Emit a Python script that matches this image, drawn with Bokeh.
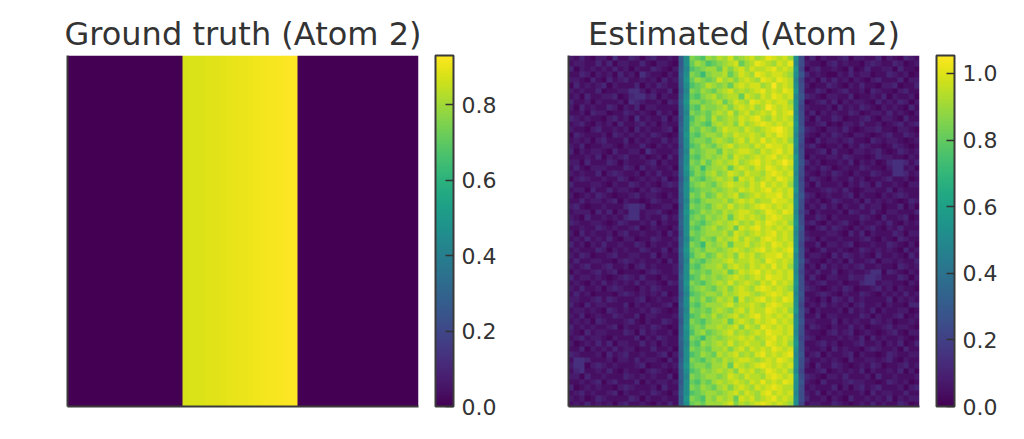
import numpy as np
from bokeh.plotting import figure
from bokeh.layouts import row
from bokeh.models import (LinearColorMapper, ColorBar, FixedTicker, Range1d,
                          PrintfTickFormatter)
from bokeh.palettes import Viridis256
from bokeh.embed import file_html
from bokeh.resources import INLINE

# grid size of both images
n = 64

# ground truth: one band of columns, values rise slowly left -> right
truth_band_start = 21
truth_band = [0.873, 0.876, 0.879, 0.882, 0.884, 0.887, 0.890, 0.893, 0.896, 0.899,
              0.902, 0.904, 0.907, 0.910, 0.913, 0.916, 0.919, 0.922, 0.924, 0.927, 0.930]

# estimate: one char per cell (top row first), looked up in levels / level_values
levels = "0123456789abcdefghijklmnopqrstuvwxyz"
level_values = [0.00, 0.02, 0.045, 0.075, 0.11, 0.14, 0.18, 0.22, 0.25, 0.28,
                0.31, 0.33, 0.36, 0.39, 0.42, 0.46, 0.48, 0.52, 0.55, 0.58,
                0.60, 0.62, 0.64, 0.66, 0.68, 0.70, 0.72, 0.76, 0.81, 0.86,
                0.90, 0.94, 0.98, 1.02, 1.04, 1.05]
estimate_rows = [
    "32421 33152 24313 42232 ah tsrut vuwtu vwuvx wvwu h8 24132 23413 32241 32143 2",
    "23322 42413 32242 13321 9h sutrs tuvws uvxwv uwvx g8 32213 42322 13432 24312 3",
    "41323 23242 31322 43213 ag rstuu svtvw uwvvw xvwv i7 13422 32141 24223 31422 1",
    "22431 32314 23153 22132 bh tsqtu uvsuw vuxwv wwvu h9 42321 13242 33122 43231 2",
    "33214 21423 42232 31423 ai sutst wuvtv wvuxw vxwv g7 23142 42313 21342 22413 3",
    "14232 34132 22413 24322 ah rstvu tusvw vwwuv yvwv h8 31224 32132 42213 34122 4",
    "32322 41223 35531 32241 9g tsuts uvwuv uvwxv wvxw i8 22431 23422 31432 21342 2",
    "23142 23341 24553 41322 ah srtuv tuvvs wvuwv xwvw g9 43213 32241 22324 13223 1",
    "42231 32223 15432 23143 bi ttstu vsuwv uxwvw vwwu h8 12342 41323 32142 32431 3",
    "31423 22431 32413 32222 ah srutt uvtvw vwuvy wvwv h7 32223 14232 43213 23214 2",
    "22314 33122 43232 14231 ag tstsu vuwtv wuvwv xvwx g8 24132 32243 12332 42321 3",
    "43232 21342 31523 22413 9h rtusv tuvuw vwxvu wvwv h8 31422 43122 34213 32142 2",
    "23421 32314 22342 31322 ah stsru vuvtw uvwxw vwvw i8 22341 21332 42231 23423 4",
    "32213 42232 31423 22341 bh tsuts uwvvu wvuvw xywv h9 43213 32421 23342 21332 1",
    "14322 23143 23232 43212 ai srtuu tvuwv vwvuw vxwv g8 32132 43213 32123 42243 2",
    "23231 34222 41323 22423 ah sttsu vutvw uwvxv wvwu h8 21423 32342 21432 33212 3",
    "32412 23321 32242 13232 9h rsuts uvwuv vuwvx wwvw h7 34212 23132 43221 24321 2",
    "41323 32142 23315 32223 ag tstuu svuvw wvuwv wxvw g8 22341 42213 32342 12432 3",
    "22232 41323 42231 23142 ah srtut uvtwv uvwvw xvwv i8 13223 32432 21243 32213 2",
    "33142 22431 32223 41322 bh tsusu vuvwu vwxvw vwyw h9 42312 23241 32312 45542 4",
    "24213 33222 43142 32231 ai stqtu uvsvw vuwvx wvwv h8 23243 12322 43221 35523 1",
    "32322 41343 22313 24223 ah rtsuv tuwvu wvvuw xwvw g8 32132 43213 22432 25542 3",
    "13432 23224 31232 32412 9g tsrtu vuvsw vwuvw vxwv h7 24321 32242 31223 42231 2",
    "42223 32132 24323 21343 ah stuts uvwvv uwvxv wvwu h8 31422 23132 43142 23213 3",
    "23314 22423 32132 43222 bh rsttu tuvuw vwvwx vwvw i8 22234 32421 23322 41322 2",
    "31232 43212 23423 32132 ah tsust vuvwt uvwvw wxvw g9 43123 22341 32213 23432 2",
    "22423 32341 32212 43223 ag srtuu uvtvw vwuvv xwwv h8 32312 43223 14232 32124 3",
    "34212 23222 45541 22331 9h tstsu vuwuv uvwxw vwvw h8 23242 31322 42331 22413 1",
    "23331 42413 25523 34212 ai rsutu tvuvw wvuvx wvxw g7 41322 23143 22421 33222 4",
    "32142 23232 45523 22423 ah stsut uvsvw vwvuw xwvv h8 22431 32222 43214 22341 2",
    "43223 32124 32232 41322 bh tsrtu vuvwu vuwvx wvwu i8 34213 23421 32232 42132 3",
    "22322 43232 23412 32213 ah srtuv tuvsw vwxvw vwvw h9 21342 43213 23421 32422 2",
    "31423 22313 42232 23142 9h tstuu uvtwv uvwvw xvwv g8 32223 32142 41322 24313 3",
    "23242 32421 33122 43223 ag rsuts vuvwu wvuwx wvwv h8 43132 23222 34213 21432 2",
    "42313 24223 22431 32232 ah tsqut uvsvv wuvwv xwvw h7 22413 32341 22322 43213 1",
    "23222 43132 32243 22413 bi stsuu tuvwv uvwxv wvwx i8 31242 23212 43232 32142 3",
    "32431 22342 23322 41322 ah rtust vuvtw vwuvw wxvw g8 23321 42432 32142 23214 2",
    "24223 32213 43232 23142 ag tsrtu uvwuv vwvux wvwv h9 42213 23142 23413 32322 4",
    "32342 23422 31342 32223 9h srtuu vtvwv uwvwv xvwu h8 23142 32323 42232 21432 3",
    "13223 42341 22213 43223 ah tstsu uvsuw vwxvw vwvw g7 32422 41232 23551 43213 2",
    "42332 32123 43242 21322 bh rsutu tuvwv uvwvx wwvw h8 24213 32243 35542 22431 3",
    "23213 24232 32423 32143 ai tsrtu vuwuv wvuwv xvwv i8 32342 23122 45523 32213 2",
    "32422 31343 22132 43222 ah stuts uvtvw vuwxw vwvu h8 43212 32431 22342 31322 1",
    "24231 22213 43232 32412 9g rstuu tvuvw wvuvw xwvw g9 22343 21322 43213 23242 3",
    "33223 42432 22341 23223 ah tsust vuvsw uvwxv wvxw h8 32131 43242 32222 41323 2",
    "42142 33222 41323 22341 bh srtuu uvwuv vwvuw xwvv h7 23242 32313 42231 32214 4",
    "23323 21432 32232 43212 ag tstsu vutvw uwvvx wvwu i8 41322 23142 32413 22331 2",
    "32412 32243 22413 32223 ah rsutv tuvwu vwxvw vwvw g8 22413 32222 43132 23412 3",
    "23231 43222 34213 22432 9h tsrtu uvsvw vuwvw xvwv h9 33222 41323 22432 31223 2",
    "42323 22341 32232 43212 ai stsuu vuvwt wvuxw vwvw h8 24321 32242 31223 42332 1",
    "32142 33222 43142 32231 ah rtust uvwuv uvwvx wwvw g8 32213 42341 23212 34213 3",
    "23423 32132 22413 24322 bh tsqtu tuvvw vwuvw xvwv h7 43122 23232 41423 22321 2",
    "31232 42413 32242 31322 ag srutu vuwuv wvvux wvwu i8 22342 31223 42231 32412 4",
    "22413 23242 33122 42231 ah tstsu uvtvw uwvwv xwvw h8 32231 42322 13432 23142 2",
    "43222 31423 42232 23413 9h rsuts vuvwu vuwxv wvwx g9 23413 22341 32212 43223 3",
    "25542 22313 32423 32142 ah tsrtu tvuvw wvuvw vxwv h8 42232 32142 23323 42132 2",
    "35513 43232 22341 22323 bi sttsu uvswv uvwxw vwvw h8 31422 43212 32431 22342 3",
    "24522 32421 32213 43212 ah rsutu vuvtw vwuvx wvwu g7 22341 23232 41322 32413 1",
    "33142 23222 43232 32241 ag tstuu tuwvu wvvuw xwvw i8 43213 32422 23142 23222 3",
    "22323 41342 22413 23323 9h srtsu vuvwv uwvxv wvxw h9 32142 22343 32212 43231 2",
    "41232 32213 43222 31422 ah tsuts uvtvw vuwvw xwvv h8 23222 41313 42342 22313 4",
    "23423 22341 32232 43213 bh rstuu tuvwu wvuwx vwvw g8 32413 23222 31423 32242 2",
    "32312 43222 24313 22322 ai tsrut vuvsw vwuvw xvwv h8 42231 32142 23232 41323 3",
    "23242 32313 42232 13242 ah stsuu uvwtv uvwxw vwvu h7 23322 43212 32423 22431 2",
]

truth_high = 0.930
estimate_high = 1.054
truth_ticks = [0.0, 0.2, 0.4, 0.6, 0.8]
estimate_ticks = [0.0, 0.2, 0.4, 0.6, 0.8, 1.0]

truth = np.zeros((n, n))
truth[:, truth_band_start:truth_band_start + len(truth_band)] = truth_band

cells = []
for i, r in enumerate(estimate_rows):
    r = r.replace(" ", "")
    if len(r) != n:
        raise ValueError("row %d has %d cells" % (i, len(r)))
    cells.append([level_values[levels.index(c)] for c in r])
estimate = np.flipud(np.array(cells))  # bokeh puts row 0 at the bottom

TEXT = "#333333"
SPINE = "#3a3a3a"
FONT = "DejaVu Sans"


def panel(img, title, high, ticks, width, left):
    mapper = LinearColorMapper(palette=Viridis256, low=0, high=high)
    p = figure(width=width, height=431, x_range=Range1d(0, n), y_range=Range1d(0, n),
               output_backend="svg", toolbar_location=None,
               min_border_left=left, min_border_right=width - left - 351,
               min_border_top=55, min_border_bottom=25)
    p.image(image=[img], x=0, y=0, dw=n, dh=n, color_mapper=mapper)

    p.title.text = title
    p.title.align = "center"
    p.title.text_font = FONT
    p.title.text_font_size = "32px"
    p.title.text_font_style = "normal"
    p.title.text_color = TEXT
    p.title.standoff = 6

    # only left and bottom spines, no ticks
    for ax in (p.xaxis[0], p.yaxis[0]):
        ax.ticker = FixedTicker(ticks=[])
        ax.axis_line_color = SPINE
        ax.axis_line_width = 2
        ax.major_tick_line_color = None
        ax.minor_tick_line_color = None
        ax.major_label_text_font_size = "0px"
    p.grid.visible = False
    p.outline_line_color = None

    cb = ColorBar(color_mapper=mapper, ticker=FixedTicker(ticks=ticks),
                  formatter=PrintfTickFormatter(format="%.1f"),
                  location=(17, 0), width=18, height=351, padding=0,
                  major_tick_in=8, major_tick_out=0,
                  major_tick_line_color=TEXT, major_tick_line_width=1.5,
                  bar_line_color=SPINE, bar_line_width=2, border_line_color=None,
                  background_fill_alpha=0, label_standoff=8,
                  major_label_text_font=FONT, major_label_text_font_size="22px",
                  major_label_text_color=TEXT)
    p.add_layout(cb, "right")
    return p


p1 = panel(truth, "Ground truth (Atom 2)", truth_high, truth_ticks, 508, 67)
p2 = panel(estimate, "Estimated (Atom 2)", estimate_high, estimate_ticks, 508, 60)
p = row(p1, p2)

open("out.html", "w").write(file_html(p, INLINE))
